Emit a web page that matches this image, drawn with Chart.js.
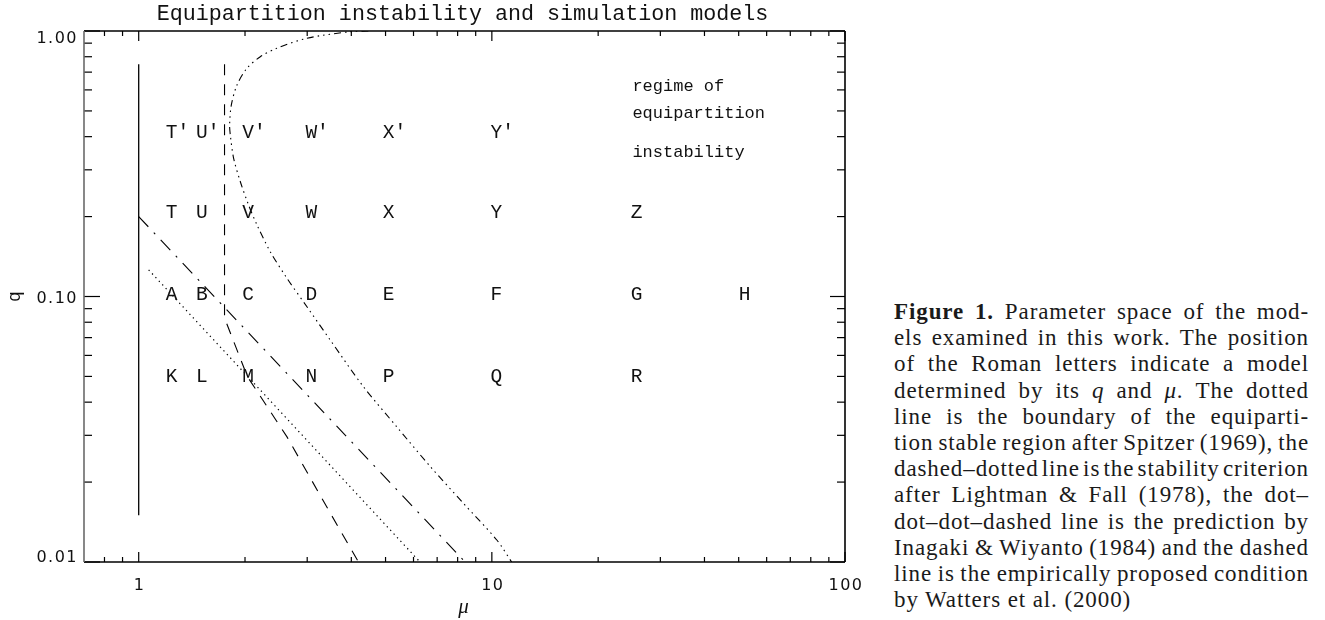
<!DOCTYPE html>
<html><head><meta charset="utf-8">
<script src="https://cdn.jsdelivr.net/npm/chart.js@4.4.0/dist/chart.umd.min.js"></script>
<style>
html,body{margin:0;padding:0;background:#fff;}
#wrap{position:relative;width:1325px;height:620px;overflow:hidden;background:#fff;}
#c{position:absolute;left:0;top:0;}
#cap{position:absolute;left:894px;top:299px;width:415px;font-family:"Liberation Serif",serif;font-size:23px;line-height:26.2px;letter-spacing:0.9px;word-spacing:-4px;color:#1a1a1a;}
#cap div{text-align:justify;text-align-last:justify;}
#cap div.last{text-align-last:left;word-spacing:0px;}
</style></head>
<body><div id="wrap"><canvas id="c" width="870" height="620"></canvas>
<div id="cap">
<div><b>Figure 1.</b> Parameter space of the mod-</div>
<div>els examined in this work. The position</div>
<div>of the Roman letters indicate a model</div>
<div>determined by its <i>q</i> and <i>μ</i>. The dotted</div>
<div>line is the boundary of the equiparti-</div>
<div>tion stable region after Spitzer (1969), the</div>
<div>dashed–dotted line is the stability criterion</div>
<div>after Lightman &amp; Fall (1978), the dot–</div>
<div>dot–dot–dashed line is the prediction by</div>
<div>Inagaki &amp; Wiyanto (1984) and the dashed</div>
<div>line is the empirically proposed condition</div>
<div class="last">by Watters et al. (2000)</div>
</div></div>
<script>
// ---- data ----
const titleText = 'Equipartition instability and simulation models';
const xMajor = [1, 10, 100];
const xLabels = ['1', '10', '100'];
const xMinor = [0.8, 0.9, 2, 3, 4, 5, 6, 7, 8, 9, 20, 30, 40, 50, 60, 70, 80, 90];
const yMajor = [0.01, 0.1, 1];
const yLabels = ['0.01', '0.10', '1.00'];
const yMinor = [0.02, 0.03, 0.04, 0.05, 0.06, 0.07, 0.08, 0.09, 0.2, 0.3, 0.4, 0.5, 0.6, 0.7, 0.8, 0.9];

// solid vertical line at mu = 1
const solidMu = [1, 1];
const solidQ = [0.015, 0.75];
// Watters et al. (2000) dashed
const wattersMu = [1.75, 1.75, 2.03, 2.63, 3.41, 4.19];
const wattersQ = [0.75, 0.083, 0.050, 0.0296, 0.0161, 0.01];
// Spitzer (1969) dotted
const spitzerMu = [1.067, 6.26];
const spitzerQ = [0.126, 0.01];
// Lightman & Fall (1978) dash-dotted
const lfMu = [1, 8.4];
const lfQ = [0.2, 0.01];
// Inagaki & Wiyanto (1984) dot-dot-dot-dashed
const iwMu = [4.47, 3.97, 2.995, 2.46, 2.21, 2.026, 1.898, 1.829, 1.809, 1.817, 1.857, 1.94, 2.047, 2.163, 2.358, 2.63, 2.995, 3.485, 4.33, 5.38, 6.69, 8.31, 10.33, 11.38];
const iwQ = [1.0, 0.994, 0.939, 0.861, 0.80, 0.724, 0.626, 0.526, 0.443, 0.406, 0.3316, 0.2706, 0.2212, 0.1859, 0.1475, 0.1171, 0.0915, 0.0686, 0.0457, 0.0323, 0.0229, 0.01663, 0.0121, 0.01];

// model letters
const modelMu = [1.24, 1.51, 2.04, 3.08, 5.1, 10.3, 25.7, 52];
const rowQ = [0.42, 0.21, 0.103, 0.0506];
const rowLetters = [
  ['T′', 'U′', 'V′', 'W′', 'X′', 'Y′', null, null],
  ['T', 'U', 'V', 'W', 'X', 'Y', 'Z', null],
  ['A', 'B', 'C', 'D', 'E', 'F', 'G', 'H'],
  ['K', 'L', 'M', 'N', 'P', 'Q', 'R', null]
];
const regimeLines = ['regime of', 'equipartition', 'instability'];
const regimeMu = 25;
const regimeQ = [0.596, 0.469, 0.336];

function pts(mu, q) { return mu.map((m, i) => ({x: m, y: q[i]})); }

const MONO = '"Liberation Mono", "DejaVu Sans Mono", monospace';
const SANS = '"DejaVu Sans", sans-serif';

const decor = {
  id: 'decor',
  afterDatasetsDraw(chart) {
    const {ctx, chartArea: a, scales: {x, y}} = chart;
    ctx.save();
    ctx.strokeStyle = '#000';
    ctx.lineWidth = 1.2;
    const tick = (x1, y1, x2, y2) => { ctx.beginPath(); ctx.moveTo(x1, y1); ctx.lineTo(x2, y2); ctx.stroke(); };
    xMajor.forEach(v => { const p = x.getPixelForValue(v); tick(p, a.bottom, p, a.bottom - 10); tick(p, a.top, p, a.top + 10); });
    xMinor.forEach(v => { const p = x.getPixelForValue(v); tick(p, a.bottom, p, a.bottom - 5); tick(p, a.top, p, a.top + 5); });
    yMajor.forEach(v => { const p = y.getPixelForValue(v); tick(a.left, p, a.left + 16, p); tick(a.right, p, a.right - 15, p); });
    yMinor.forEach(v => { const p = y.getPixelForValue(v); tick(a.left, p, a.left + 8, p); tick(a.right, p, a.right - 8, p); });
    ctx.lineWidth = 1.6;
    tick(a.left, a.top, a.right, a.top);
    tick(a.right, a.top, a.right, a.bottom);
    tick(a.left, a.bottom, a.right, a.bottom);
    ctx.strokeStyle = '#6a6a6a';
    tick(a.left, a.top, a.left, a.bottom);
    ctx.restore();
  },
  afterDraw(chart) {
    const {ctx, chartArea: a, scales: {x, y}} = chart;
    ctx.save();
    ctx.fillStyle = '#111';
    // title
    ctx.font = '21.7px ' + MONO;
    ctx.textAlign = 'center';
    ctx.textBaseline = 'alphabetic';
    ctx.fillText(titleText, (a.left + a.right) / 2 - 2, 20);
    // tick labels
    ctx.font = '16px ' + SANS;
    ctx.letterSpacing = '1.5px';
    ctx.textAlign = 'right';
    yMajor.forEach((v, i) => {
      const p = y.getPixelForValue(v);
      let b = p + 6;
      if (i === 0) b = p - 0.5;
      if (i === 2) b = p + 12;
      ctx.fillText(yLabels[i], a.left - 6, b);
    });
    ctx.textAlign = 'center';
    xMajor.forEach((v, i) => {
      const p = x.getPixelForValue(v);
      ctx.fillText(xLabels[i], p + 1, a.bottom + 28);
    });
    ctx.letterSpacing = '0px';
    // axis titles
    ctx.font = 'italic 21px "Liberation Serif", serif';
    ctx.fillText('μ', (a.left + a.right) / 2 - 1, 613);
    ctx.save();
    ctx.translate(20, (a.top + a.bottom) / 2);
    ctx.rotate(-Math.PI / 2);
    ctx.font = '18px ' + MONO;
    ctx.textAlign = 'center';
    ctx.fillText('q', 0, 0);
    ctx.restore();
    // model letters
    ctx.font = '19.5px ' + MONO;
    ctx.textAlign = 'left';
    rowLetters.forEach((row, r) => {
      const py = y.getPixelForValue(rowQ[r]);
      row.forEach((lab, c) => {
        if (!lab) return;
        const px = x.getPixelForValue(modelMu[c]);
        const w = ctx.measureText(lab[0]).width;
        ctx.fillText(lab, px - w / 2, py + 6.7);
      });
    });
    // regime annotation
    ctx.font = '17px ' + MONO;
    regimeLines.forEach((t, i) => {
      ctx.fillText(t, x.getPixelForValue(regimeMu), y.getPixelForValue(regimeQ[i]));
    });
    ctx.restore();
  }
};

const ds = (mu, q, dash, w) => ({
  data: pts(mu, q), showLine: true, pointRadius: 0, borderColor: '#000',
  borderWidth: w || 1.1, borderDash: dash, fill: false, tension: 0
});

new Chart(document.getElementById('c'), {
  type: 'scatter',
  data: {
    datasets: [
      ds(solidMu, solidQ, [], 1.3),
      ds(wattersMu, wattersQ, [11, 9]),
      ds(spitzerMu, spitzerQ, [1.3, 3.7], 1.2),
      ds(lfMu, lfQ, [14, 8, 2, 8]),
      Object.assign(ds(iwMu, iwQ, [7, 4, 1.5, 4, 1.5, 4, 1.5, 4]), {tension: 0.3})
    ]
  },
  options: {
    responsive: false, animation: false, devicePixelRatio: 1,
    layout: {padding: {left: 84, top: 31, right: 25, bottom: 58}},
    plugins: {legend: {display: false}, tooltip: {enabled: false}, title: {display: false}},
    scales: {
      x: {type: 'logarithmic', min: 0.7, max: 100, display: false},
      y: {type: 'logarithmic', min: 0.01, max: 1, display: false}
    }
  },
  plugins: [decor]
});
</script>
</body></html>
